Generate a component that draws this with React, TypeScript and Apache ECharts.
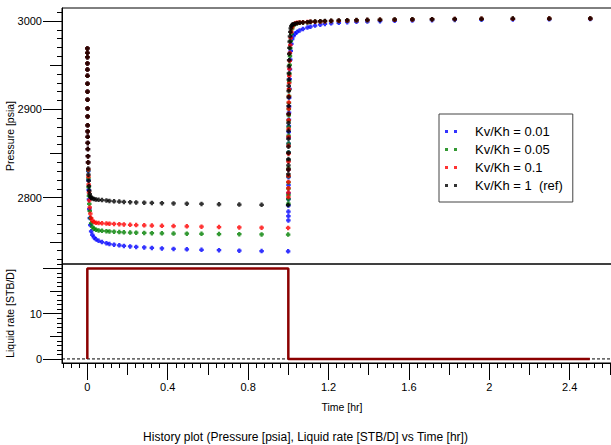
import React, { useEffect, useRef } from "react";
import * as echarts from "echarts";

const FONT = '"Liberation Sans", Arial, Helvetica, sans-serif';

// ---------- data ----------
// drawdown elapsed times (hr) starting at t = 0
const ddTime = [0.0002, 0.0003, 0.0004, 0.0005, 0.0006, 0.0007, 0.0008, 0.0009, 0.001,
  0.0012, 0.0014, 0.0016, 0.0018, 0.0021, 0.0024, 0.0028, 0.0033, 0.0039,
  0.0046, 0.0055, 0.0066, 0.008, 0.0098,
  0.012, 0.015, 0.019, 0.025, 0.033, 0.043, 0.056, 0.073, 0.095,
  0.11, 0.133, 0.159, 0.182,
  0.213, 0.243, 0.283, 0.321, 0.371, 0.429, 0.495, 0.568, 0.655, 0.756, 0.867, 0.999];

// build-up times (hr) after shut-in at t = 1
const buTime = [1.0002, 1.0003, 1.0004, 1.0005, 1.0006, 1.0007, 1.0008, 1.0009, 1.001,
  1.0012, 1.0014, 1.0016, 1.0018, 1.0021, 1.0024, 1.0028, 1.0033, 1.0039,
  1.0046, 1.0055, 1.0066, 1.008, 1.0098,
  1.012, 1.015, 1.019, 1.025, 1.033, 1.043, 1.056, 1.073, 1.095,
  1.11, 1.133, 1.159, 1.182,
  1.213, 1.251, 1.293, 1.339, 1.393, 1.456, 1.529, 1.617, 1.715, 1.828, 1.961, 2.117, 2.298, 2.502];

const pBlackDD = [2969, 2964, 2959, 2952, 2945, 2938, 2929, 2920, 2911, 2901, 2892, 2882, 2875, 2869, 2862, 2855, 2847, 2840,
  2833, 2826, 2819, 2813, 2808,
  2804, 2801.5, 2800, 2799.2, 2798.6, 2798.1, 2797.7, 2797.3, 2796.9,
  2796.3, 2795.9, 2795.6, 2795.3,
  2795.0, 2794.7, 2794.4, 2794.1, 2793.8, 2793.5, 2793.2, 2792.9, 2792.6, 2792.3, 2792.0, 2791.7];
const pRedDD = [2969, 2964, 2959, 2952, 2945, 2938, 2929, 2920, 2911, 2901, 2892, 2882, 2875, 2869, 2862, 2855, 2847, 2840,
  2832, 2824, 2815, 2806, 2797,
  2789, 2782, 2777, 2774, 2772.5, 2771.8, 2771.3, 2771.0, 2770.8,
  2770.6, 2770.3, 2770.0, 2769.7,
  2769.4, 2769.1, 2768.8, 2768.5, 2768.2, 2767.9, 2767.6, 2767.2, 2766.8, 2766.4, 2766.1, 2765.8];
const pGreenDD = [2969, 2964, 2959, 2952, 2945, 2938, 2929, 2920, 2911, 2901, 2892, 2882, 2875, 2869, 2862, 2855, 2847, 2840,
  2831, 2822, 2812, 2802, 2793,
  2785, 2777, 2771, 2767, 2765, 2763.8, 2763, 2762.5, 2762.1,
  2761.8, 2761.5, 2761.2, 2760.9,
  2760.6, 2760.4, 2760.1, 2759.9, 2759.7, 2759.5, 2759.3, 2759.1, 2758.9, 2758.7, 2758.5, 2758.3];
const pBlueDD = [2969, 2964, 2959, 2952, 2945, 2938, 2929, 2920, 2911, 2901, 2892, 2882, 2875, 2869, 2862, 2855, 2847, 2840,
  2830, 2820, 2809, 2798, 2787,
  2777, 2769, 2762, 2758, 2755, 2753, 2751.3, 2749.8, 2748.5,
  2747.6, 2746.8, 2746.1, 2745.5,
  2744.9, 2744.3, 2743.7, 2743.2, 2742.6, 2742.1, 2741.6, 2741.1, 2740.6, 2740.1, 2739.7, 2739.3];

const pBlackBU = [2826.7, 2831.7, 2836.7, 2843.7, 2850.7, 2857.7, 2866.7, 2875.7, 2884.7, 2894.7, 2903.7, 2913.7, 2920.7, 2926.7, 2933.7, 2940.7, 2948.7, 2955.7,
  2962.7, 2969.7, 2976.7, 2982.7, 2987.7,
  2991.7, 2994.2, 2995.7, 2996.4, 2997.0, 2997.5, 2997.9, 2998.3, 2998.6,
  2999.2, 2999.5, 2999.8, 3000.0,
  3000.3, 3000.6, 3000.9, 3001.1, 3001.3, 3001.5, 3001.8, 3001.9, 3002.1, 3002.3, 3002.5, 3002.7, 3002.8, 3002.9];
const pRedBU = [2800.8, 2805.8, 2810.8, 2817.8, 2824.8, 2831.8, 2840.8, 2849.8, 2858.8, 2868.8, 2877.8, 2887.8, 2894.8, 2900.8, 2907.8, 2914.8, 2922.8, 2929.8,
  2937.8, 2945.8, 2954.8, 2963.8, 2972.8,
  2980.8, 2987.8, 2992.8, 2995.7, 2997.2, 2997.9, 2998.4, 2998.6, 2998.8,
  2999.0, 2999.2, 2999.5, 2999.7,
  3000.0, 3000.2, 3000.5, 3000.8, 3001.0, 3001.3, 3001.5, 3001.8, 3002.0, 3002.2, 3002.4, 3002.5, 3002.7, 3002.8];
const pGreenBU = [2793.3, 2798.3, 2803.3, 2810.3, 2817.3, 2824.3, 2833.3, 2842.3, 2851.3, 2861.3, 2870.3, 2880.3, 2887.3, 2893.3, 2900.3, 2907.3, 2915.3, 2922.3,
  2931.3, 2940.3, 2950.3, 2960.3, 2969.3,
  2977.3, 2985.3, 2991.3, 2994.8, 2996.6, 2997.5, 2998.1, 2998.4, 2998.6,
  2998.9, 2999.1, 2999.4, 2999.6,
  2999.9, 3000.1, 3000.4, 3000.7, 3000.9, 3001.2, 3001.4, 3001.7, 3001.9, 3002.1, 3002.3, 3002.4, 3002.6, 3002.7];
const pBlueBU = [2774.3, 2779.3, 2784.3, 2791.3, 2798.3, 2805.3, 2814.3, 2823.3, 2832.3, 2842.3, 2851.3, 2861.3, 2868.3, 2874.3, 2881.3, 2888.3, 2896.3, 2903.3,
  2913.3, 2923.3, 2934.3, 2945.3, 2956.3,
  2966.3, 2974.2, 2979.5, 2983.0, 2985.5, 2987.5, 2989.3, 2991.0, 2992.5,
  2993.6, 2994.8, 2995.8, 2996.6,
  2997.4, 2997.9, 2998.6, 2999.0, 2999.4, 2999.8, 3000.2, 3000.6, 3000.9, 3001.2, 3001.4, 3001.7, 3001.9, 3002.2];

const rateTime = [0, 0, 1, 1, 2.5];
const rateValue = [0, 20, 20, 0, 0];

const seriesNames = ["Kv/Kh = 0.01", "Kv/Kh = 0.05", "Kv/Kh = 0.1", "Kv/Kh = 1  (ref)"];
const seriesColors = ["#0000ff", "#008000", "#ff0000", "#000000"];

const timeTickLabels = [0, 0.4, 0.8, 1.2, 1.6, 2, 2.4];
const pressureTickLabels = [2800, 2900, 3000];
const rateTickLabels = [0, 10];

// ---------- helpers ----------
const steps = (a: number, b: number, s: number) => {
  const out: number[] = [];
  const n = Math.round((b - a) / s);
  for (let i = 0; i <= n; i++) out.push(Math.round((a + i * s) * 10000) / 10000);
  return out;
};
const zip = (xs: number[], ys: number[]) => xs.map((x, i) => [x, ys[i]]);

const X_MIN = -0.126, X_MAX = 2.66;
const P_MIN = 2725, P_MAX = 3014.7;
const R_MIN = -0.9, R_MAX = 21.0;

const tickStyle = { color: "#000", width: 1 };
const labelStyle = { color: "#000", fontSize: 11, fontFamily: FONT };
const plain = (v: number) => String(v);

export default function App() {
  const ref = useRef<HTMLDivElement>(null);
  useEffect(() => {
    const chart = echarts.init(ref.current!, null, { renderer: "svg" });

    const xTickAxis = (values: number[], len: number, extra: any = {}) => ({
      type: "value", gridIndex: 1, position: "bottom", min: X_MIN, max: X_MAX,
      axisLine: { show: false, onZero: false }, splitLine: { show: false },
      axisTick: { show: true, customValues: values, length: len, lineStyle: tickStyle },
      axisLabel: { show: false }, ...extra,
    });
    const yTickAxis = (grid: number, mn: number, mx: number, values: number[], len: number, extra: any = {}) => ({
      type: "value", gridIndex: grid, position: "left", min: mn, max: mx,
      axisLine: { show: false, onZero: false }, splitLine: { show: false },
      axisTick: { show: true, customValues: values, length: len, lineStyle: tickStyle },
      axisLabel: { show: false }, ...extra,
    });

    const scatterSeries = [
      [pBlueDD, pBlueBU], [pGreenDD, pGreenBU], [pRedDD, pRedBU], [pBlackDD, pBlackBU],
    ].map(([dd, bu], i) => ({
      type: "scatter", name: seriesNames[i], xAxisIndex: 0, yAxisIndex: 0,
      symbol: "path://M1,0H3V1H4V3H3V4H1V3H0V1H1Z", symbolSize: 4.5,
      itemStyle: { color: seriesColors[i] },
      data: zip(ddTime, dd).concat(zip(buTime, bu)),
      z: 2 + i,
    }));

    const gridBase = {
      left: 62, width: 560, show: true, borderColor: "#000", borderWidth: 1,
      backgroundColor: "transparent", containLabel: false, outerBoundsMode: "none",
    };

    const option: any = {
      animation: false,
      backgroundColor: "#fff",
      textStyle: { fontFamily: FONT },
      title: {
        text: "History plot (Pressure [psia], Liquid rate [STB/D] vs Time [hr])",
        left: "center", top: 426,
        textStyle: { fontSize: 12, fontWeight: "normal", color: "#000", fontFamily: FONT },
      },
      legend: {
        orient: "vertical", left: 439, top: 114, selectedMode: false,
        backgroundColor: "#fff", borderColor: "#444", borderWidth: 1,
        padding: [11, 10, 10, 6], itemGap: 5, itemWidth: 12, itemHeight: 3,
        icon: "path://M0,0H3V3H0ZM9,0H12V3H9Z",
        textStyle: { fontSize: 13, color: "#000", fontFamily: FONT, padding: [0, 0, 0, 13] },
        data: seriesNames,
        z: 20,
      },
      grid: [
        { ...gridBase, top: 8, height: 256 },
        { ...gridBase, top: 264, height: 99 },
      ],
      xAxis: [
        { type: "value", gridIndex: 0, position: "bottom", min: X_MIN, max: X_MAX, show: true,
          axisLine: { show: false, onZero: false }, axisTick: { show: false }, axisLabel: { show: false }, splitLine: { show: false } },
        xTickAxis([0, 0.4, 0.8, 1.2, 1.6, 2.0, 2.4, 2.8], 17, {
          axisLine: { show: true, onZero: false, lineStyle: { color: "#000", width: 1 } },
          axisLabel: { show: true, customValues: timeTickLabels, margin: 18, ...labelStyle, formatter: plain },
          name: "Time [hr]", nameLocation: "middle", nameGap: 38, nameMoveOverlap: false,
          nameTextStyle: { ...labelStyle, fontSize: 10.5 },
        }),
        xTickAxis(steps(0.2, 2.6, 0.4), 12),
        xTickAxis(steps(-0.12, 2.64, 0.04), 5),
      ],
      yAxis: [
        yTickAxis(0, P_MIN, P_MAX, [2800, 2900, 3000], 19, {
          axisLine: { show: true, onZero: false, lineStyle: { color: "#000", width: 1 } },
          axisLabel: { show: true, customValues: pressureTickLabels, margin: 20, ...labelStyle, formatter: plain },
          name: "Pressure [psia]", nameLocation: "middle", nameGap: 47, nameRotate: 90, nameMoveOverlap: false,
          nameTextStyle: { ...labelStyle, fontSize: 10.5 },
        }),
        yTickAxis(0, P_MIN, P_MAX, [2750, 2850, 2950], 12),
        yTickAxis(0, P_MIN, P_MAX, steps(2730, 3010, 10), 5),
        yTickAxis(1, R_MIN, R_MAX, [0, 10, 20], 19, {
          axisLine: { show: true, onZero: false, lineStyle: { color: "#000", width: 1 } },
          axisLabel: { show: true, customValues: rateTickLabels, margin: 20, ...labelStyle, formatter: plain },
          name: "Liquid rate [STB/D]", nameLocation: "middle", nameGap: 47, nameRotate: 90, nameMoveOverlap: false,
          nameTextStyle: { ...labelStyle, fontSize: 10.5 },
        }),
        yTickAxis(1, R_MIN, R_MAX, [5, 15], 12),
        yTickAxis(1, R_MIN, R_MAX, steps(0, 21, 1), 5),
      ],
      series: [
        ...scatterSeries,
        {
          type: "line", name: "zero", xAxisIndex: 1, yAxisIndex: 3, z: 1,
          showSymbol: false, symbol: "none", silent: true,
          lineStyle: { color: "#000", type: [3, 2], width: 1 },
          data: [[X_MIN, 0], [X_MAX, 0]],
        },
        {
          type: "line", name: "Liquid rate", xAxisIndex: 1, yAxisIndex: 3, z: 5,
          showSymbol: false, symbol: "none",
          lineStyle: { color: "#8b0000", width: 2.5 },
          itemStyle: { color: "#8b0000" },
          data: zip(rateTime, rateValue),
        },
      ],
    };
    chart.setOption(option);
    return () => chart.dispose();
  }, []);
  return (
    <div
      ref={ref}
      style={{ position: "fixed", left: 0, top: 0, width: 611, height: 445, background: "#fff" }}
    />
  );
}
